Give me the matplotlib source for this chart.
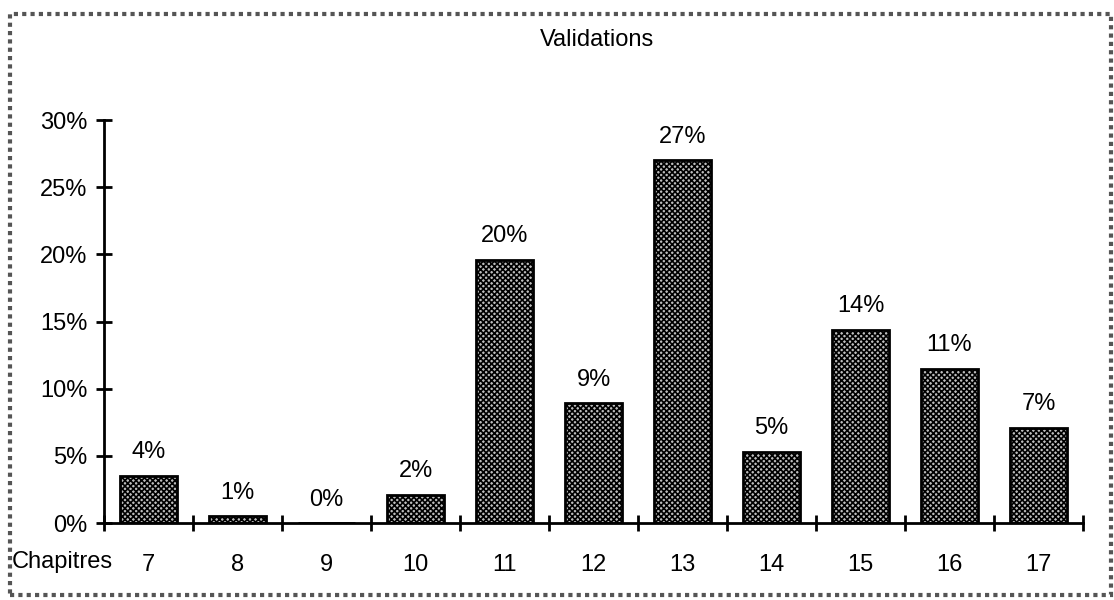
import matplotlib
matplotlib.use("Agg")
import numpy as np
from matplotlib import pyplot as plt
from matplotlib.patches import Rectangle

plt.rcParams['font.family'] = ['Liberation Sans', 'DejaVu Sans']
plt.rcParams['hatch.linewidth'] = 1.2

# data
chapters = ['7', '8', '9', '10', '11', '12', '13', '14', '15', '16', '17']
values = [3.5, 0.5, 0.0, 2.1, 19.6, 8.9, 27.0, 5.3, 14.4, 11.5, 7.1]
labels = ['4%', '1%', '0%', '2%', '20%', '9%', '27%', '5%', '14%', '11%', '7%']
y_ticks = [0, 5, 10, 15, 20, 25, 30]

fs = 17

fig = plt.figure(figsize=(11.14, 6.0), dpi=100)
ax = fig.add_axes([104 / 1114, 77 / 600, 979 / 1114, 403 / 600])

x = np.arange(len(chapters))
ax.bar(x, values, width=0.65, facecolor='#bdbdbd', edgecolor='black',
       linewidth=2, hatch='xxxxxx')

for xi, v, lab in zip(x, values, labels):
    ax.annotate(lab, (xi, v), xytext=(0, 9), textcoords='offset points',
                ha='center', va='bottom', fontsize=fs)

ax.set_xlim(-0.5, len(chapters) - 0.5)
ax.set_ylim(0, 30)

ax.set_yticks(y_ticks)
ax.set_yticklabels([f'{t}%' for t in y_ticks], fontsize=fs)
ax.set_xticks(x)
ax.set_xticklabels(chapters, fontsize=fs)
ax.set_xticks(np.arange(len(chapters) + 1) - 0.5, minor=True)
ax.tick_params(axis='x', which='major', length=0, pad=22)
ax.tick_params(axis='x', which='minor', direction='inout', length=12, width=2)
ax.tick_params(axis='y', direction='inout', length=12, width=2, pad=6)

for side in ['top', 'right']:
    ax.spines[side].set_visible(False)
for side in ['left', 'bottom']:
    ax.spines[side].set_linewidth(2)

fig.text(12 / 1114, 1 - 562 / 600, 'Chapitres', fontsize=fs, ha='left', va='center')
fig.text(597 / 1114, 1 - 40 / 600, 'Validations', fontsize=fs, ha='center', va='center')

# dotted frame around the whole chart
fig.patches.append(Rectangle((10 / 1114, 5 / 600), 1101 / 1114, 581 / 600,
                             transform=fig.transFigure, fill=False,
                             edgecolor='#555555', linewidth=3, linestyle=(0, (1, 1))))

fig.savefig('out.png', dpi=100)
